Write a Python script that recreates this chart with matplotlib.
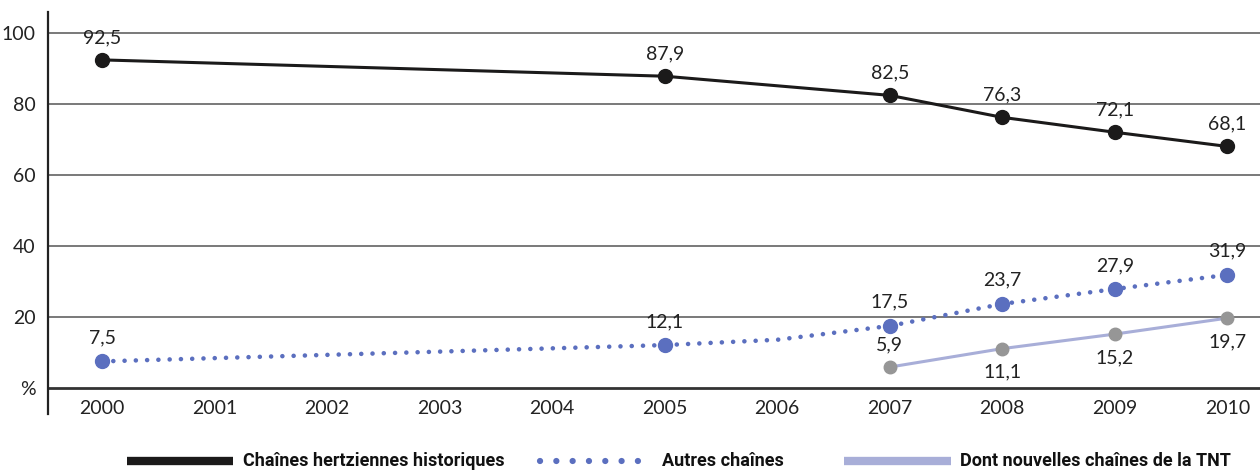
import matplotlib
matplotlib.use("Agg")
from matplotlib import pyplot as plt
from matplotlib.lines import Line2D

# data
years = ["2000", "2001", "2002", "2003", "2004", "2005", "2006", "2007", "2008", "2009", "2010"]

hist_years = ["2000", "2005", "2007", "2008", "2009", "2010"]
hist_vals = [92.5, 87.9, 82.5, 76.3, 72.1, 68.1]

autres_years = ["2000", "2005", "2006", "2007", "2008", "2009", "2010"]
autres_vals = [7.5, 12.1, 13.6, 17.5, 23.7, 27.9, 31.9]
autres_marked = ["2000", "2005", "2007", "2008", "2009", "2010"]

tnt_years = ["2007", "2008", "2009", "2010"]
tnt_vals = [5.9, 11.1, 15.2, 19.7]

yticks = [0, 20, 40, 60, 80, 100]
ytick_labels = ["%", "20", "40", "60", "80", "100"]

legend_labels = ["Chaînes hertziennes historiques", "Autres chaînes", "Dont nouvelles chaînes de la TNT"]

black = "#1b1a1a"
blue = "#5b6fbf"
grey = "#969696"
lilac = "#a8aed8"

plt.rcParams["font.family"] = ["Lato", "DejaVu Sans"]

W, H = 1260, 471
fig = plt.figure(figsize=(W / 100, H / 100), dpi=100)
ax = fig.add_axes([48 / W, 1 - 388 / H, 1 - 48 / W, (388 - 12) / H])

pos = {y: i for i, y in enumerate(years)}

# grid
for v in yticks:
    if v == 0:
        ax.axhline(v, color="#333333", lw=2.0, zorder=1, clip_on=False)
    else:
        ax.axhline(v, color="#555555", lw=1.1, zorder=1)

# historiques
hx = [pos[y] for y in hist_years]
ax.plot(hx, hist_vals, color=black, lw=2.2, marker="o", ms=10, zorder=4)
for x, v in zip(hx, hist_vals):
    ax.annotate(str(v).replace(".", ","), (x, v), xytext=(0, 16), textcoords="offset points",
                ha="center", va="center", fontsize=14, color="#222222")

# autres chaines
ax_ = [pos[y] for y in autres_years]
ax.plot(ax_, autres_vals, color=blue, lw=3.3, linestyle=(0, (0.01, 2.45)),
        dash_capstyle="round", zorder=3)
mx = [pos[y] for y in autres_marked]
mv = [v for y, v in zip(autres_years, autres_vals) if y in autres_marked]
ax.plot(mx, mv, linestyle="none", marker="o", ms=10, color=blue, zorder=4)
for x, v in zip(mx, mv):
    ax.annotate(str(v).replace(".", ","), (x, v), xytext=(0, 17), textcoords="offset points",
                ha="center", va="center", fontsize=14, color="#222222")

# TNT
tx = [pos[y] for y in tnt_years]
ax.plot(tx, tnt_vals, color=lilac, lw=2.2, zorder=3)
ax.plot(tx, tnt_vals, linestyle="none", marker="o", ms=9, color=grey, zorder=4)
for i, (x, v) in enumerate(zip(tx, tnt_vals)):
    dy = 16 if i == 0 else -17
    ax.annotate(str(v).replace(".", ","), (x, v), xytext=(0, dy), textcoords="offset points",
                ha="center", va="center", fontsize=14, color="#222222")

ax.set_xlim(-0.48, 10.29)
ax.set_ylim(0, 106)
ax.set_xticks(range(len(years)))
ax.set_xticklabels(years, fontsize=14, color="#222222")
ax.set_yticks(yticks)
ax.set_yticklabels(ytick_labels, fontsize=14, color="#222222")
ax.tick_params(axis="x", length=0, pad=9)
ax.tick_params(axis="y", length=0, pad=9)
for s in ["top", "right", "bottom", "left"]:
    ax.spines[s].set_visible(False)
ax.axvline(-0.48, ymin=-0.07, ymax=1, color="#222222", lw=1.6, clip_on=False, zorder=5)

# legend
ly = 1 - 461 / H
lfam = ["Roboto", "DejaVu Sans"]
fig.add_artist(Line2D([127 / W, 233 / W], [ly, ly], color=black, lw=6, solid_capstyle="butt"))
fig.text(243 / W, ly, legend_labels[0], fontsize=13, fontweight="bold", ha="left", va="center",
         family=lfam, color="#111111")
fig.add_artist(Line2D([540 / W, 652 / W], [ly, ly], color=blue, lw=4.5,
                      linestyle=(0, (0.01, 2.6)), dash_capstyle="round"))
fig.text(662 / W, ly, legend_labels[1], fontsize=13, fontweight="bold", ha="left", va="center",
         family=lfam, color="#111111")
fig.add_artist(Line2D([844 / W, 951 / W], [ly, ly], color=lilac, lw=6, solid_capstyle="butt"))
fig.text(960 / W, ly, legend_labels[2], fontsize=13, fontweight="bold", ha="left", va="center",
         family=lfam, color="#111111")

fig.savefig("out.png", dpi=100)
